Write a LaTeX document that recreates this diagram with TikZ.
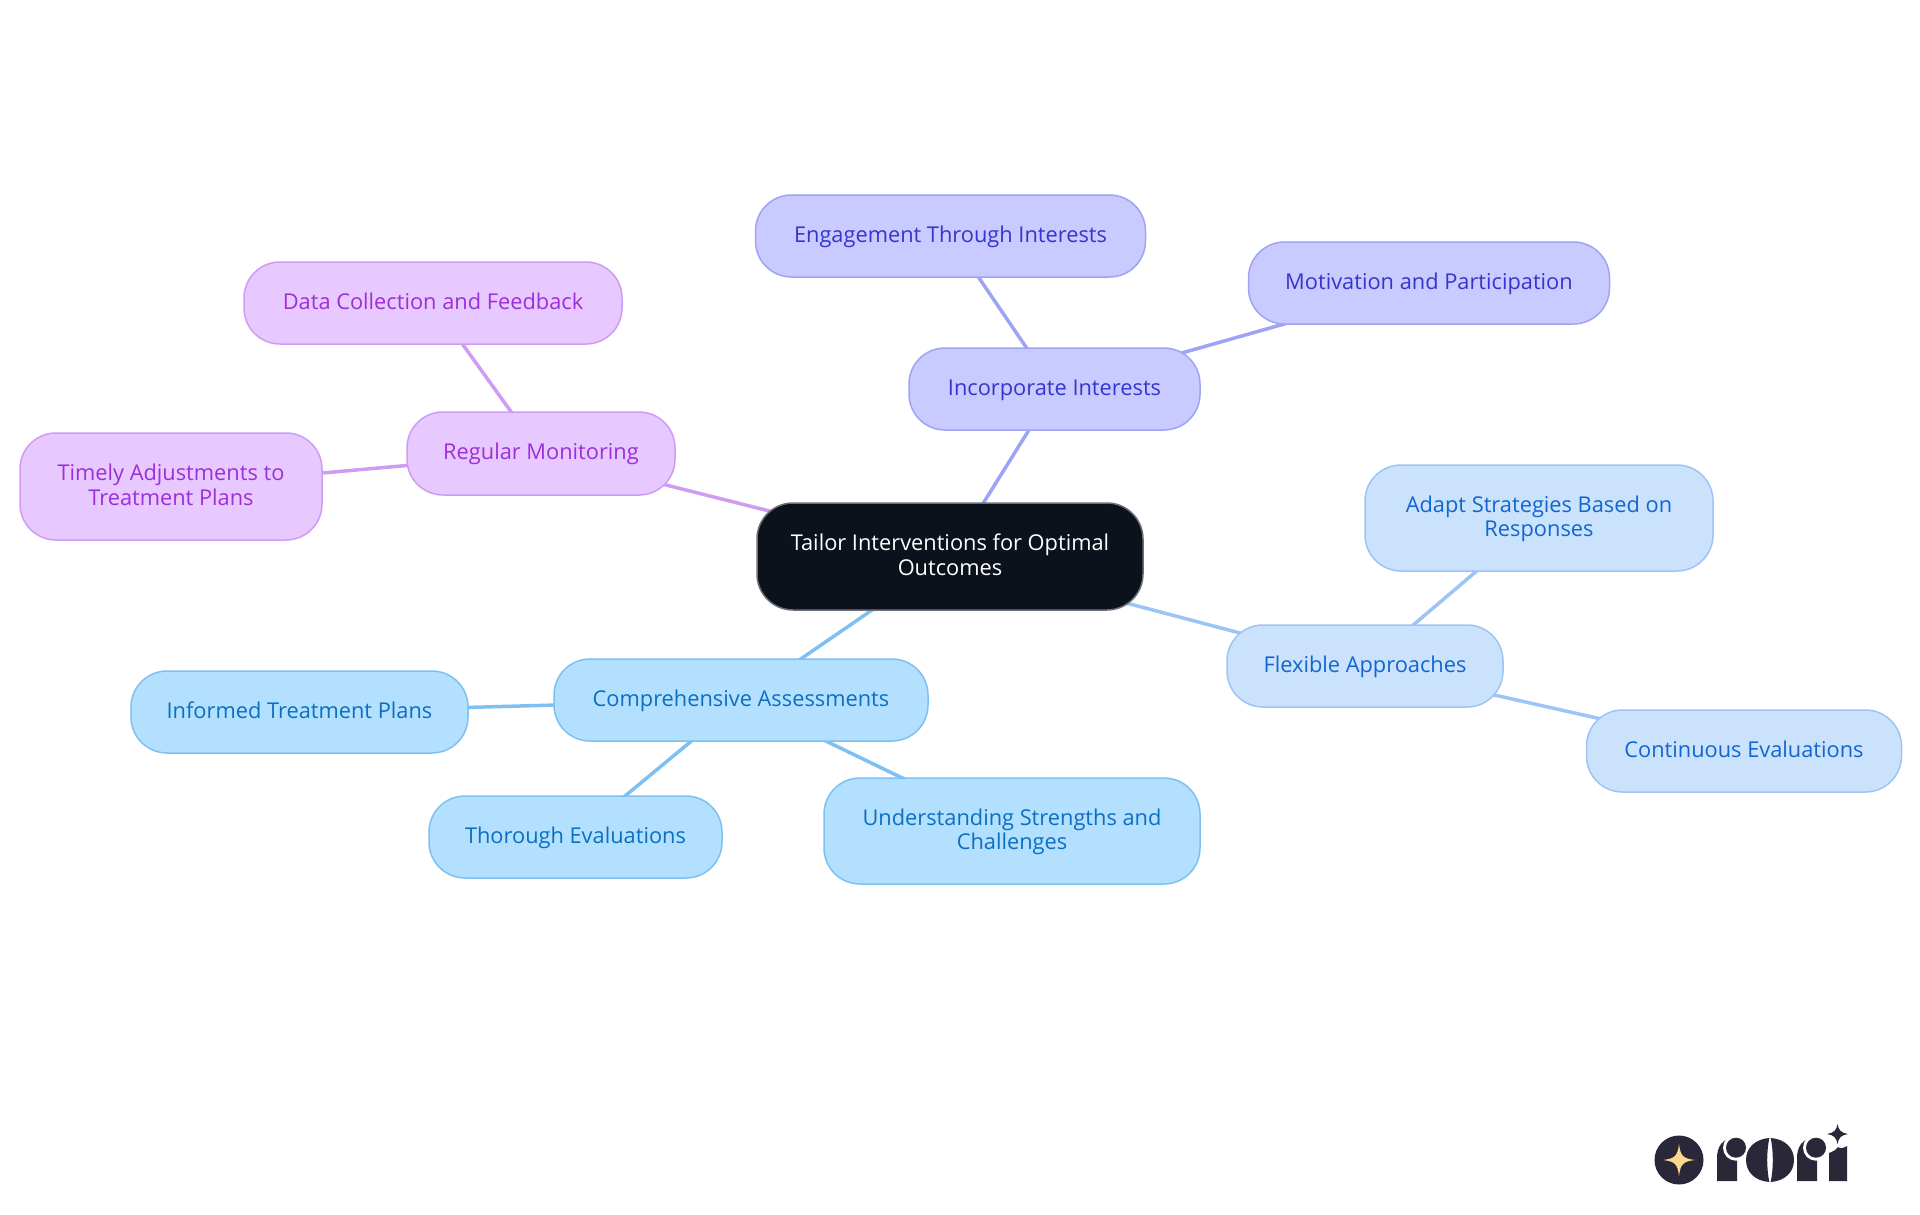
\documentclass[tikz,border=0pt]{standalone}
\usepackage{fontspec}
\setmainfont{Open Sans}
\usetikzlibrary{backgrounds}
\definecolor{dark}{HTML}{0B121B}
\definecolor{darkline}{HTML}{6B7078}
\definecolor{skyfill}{HTML}{B3E0FF}
\definecolor{skyline}{HTML}{7EC0F2}
\definecolor{skytext}{HTML}{0B6FC2}
\definecolor{paleill}{HTML}{CBE2FC}
\definecolor{paleline}{HTML}{9CC4F4}
\definecolor{paletext}{HTML}{1166D0}
\definecolor{indigofill}{HTML}{C9CAFF}
\definecolor{indigoline}{HTML}{9FA3F5}
\definecolor{indigotext}{HTML}{3535CE}
\definecolor{lilacfill}{HTML}{E8C9FF}
\definecolor{lilacline}{HTML}{CF9BF3}
\definecolor{lilactext}{HTML}{9B2FD8}
\definecolor{logoink}{HTML}{2A2838}
\definecolor{logostar}{HTML}{FBD98C}
\newcommand{\linegap}{\rule[-5pt]{0pt}{23pt}}
\begin{document}
\begin{tikzpicture}[x=1pt,y=-1pt,line cap = round, line join = round]
	\tikzstyle{topic}=[rounded corners=36pt,line width=1.5pt,inner sep=0pt,align=center,font=\fontsize{21.8}{24.3}\selectfont]
	\tikzstyle{root}=[topic,draw=darkline,fill=dark,text=white]
	\tikzstyle{sky}=[topic,draw=skyline,fill=skyfill,text=skytext]
	\tikzstyle{pale}=[topic,draw=paleline,fill=paleill,text=paletext]
	\tikzstyle{indigo}=[topic,draw=indigoline,fill=indigofill,text=indigotext]
	\tikzstyle{lilac}=[topic,draw=lilacline,fill=lilacfill,text=lilactext]
	\useasboundingbox (0,0) rectangle (1920,1215);
	\foreach \d/\x/\y/\w/\h/\s/\t in {
		tailor/950/556.5/386/107/root/{Tailor Interventions for Optimal\\Outcomes},
		incorporate/1054.5/389/291/82/indigo/{Incorporate Interests},
		engagement/950.5/236/390/82/indigo/{Engagement Through Interests},
		motivation/1429/283/361/82/indigo/{Motivation and Participation},
		monitoring/541/453.5/268/83/lilac/{Regular Monitoring},
		feedback/433/303/378/82/lilac/{Data Collection and Feedback},
		adjustments/171/486.5/302/107/lilac/{Timely Adjustments to\\Treatment Plans},
		flexible/1365/666/276/82/pale/{Flexible Approaches},
		adapt/1539/518/348/106/pale/{Adapt Strategies Based on\\Responses},
		continuous/1744/751/315/82/pale/{Continuous Evaluations},
		assessments/741/700/374/82/sky/{Comprehensive Assessments},
		informed/299.5/712/337/82/sky/{Informed Treatment Plans},
		thorough/575.5/837/293/82/sky/{Thorough Evaluations},
		understanding/1012/831/376/106/sky/{Understanding Strengths and\\Challenges}} {
		\node[\s,minimum width=\w pt,minimum height=\h pt] (\d) at (\x,\y) {\linegap\t\linegap};
	}
	\begin{scope}[on background layer]
		\foreach \a/\b/\c in {tailor/incorporate/indigoline, incorporate/engagement/indigoline, incorporate/motivation/indigoline,
			tailor/monitoring/lilacline, monitoring/feedback/lilacline, monitoring/adjustments/lilacline,
			tailor/flexible/paleline, flexible/adapt/paleline, flexible/continuous/paleline,
			tailor/assessments/skyline, assessments/informed/skyline, assessments/thorough/skyline, assessments/understanding/skyline} {
			\draw[\c,line width=3.5pt] (\a.center) -- (\b.center);
		}
	\end{scope}
	% logo
	\fill[logoink] (1679,1160) circle (24.5);
	\fill[logostar] (1679,1144) .. controls (1680.5,1156) and (1683,1158.5) .. (1695,1160) .. controls (1683,1161.5) and (1680.5,1164) .. (1679,1176) .. controls (1677.5,1164) and (1675,1161.5) .. (1663,1160) .. controls (1675,1158.5) and (1677.5,1156) .. (1679,1144) -- cycle;
	\foreach \r in {0,80} {
		\begin{scope}[xshift=\r pt]
			\fill[logoink] (1717,1181) -- (1717,1158) .. controls (1717,1147) and (1722,1139) .. (1733,1138) -- (1737,1138) -- (1737,1181) -- cycle;
			\fill[white] (1736,1147.7) circle (13);
			\fill[logoink] (1736,1147.7) circle (10);
		\end{scope}
	}
	\fill[logoink] (1769.3,1138) .. controls (1755,1139) and (1746,1148) .. (1746,1160) .. controls (1746,1172) and (1755,1181) .. (1769.3,1182) .. controls (1766.5,1168) and (1766.5,1152) .. (1769.3,1138) -- cycle;
	\fill[logoink] (1770.7,1138) .. controls (1785,1139) and (1794,1148) .. (1794,1160) .. controls (1794,1172) and (1785,1181) .. (1770.7,1182) .. controls (1773.5,1168) and (1773.5,1152) .. (1770.7,1138) -- cycle;
	\fill[logoink] (1829,1181) -- (1829,1153) .. controls (1832,1152) and (1836,1150) .. (1838,1147) .. controls (1840,1149) and (1844,1148) .. (1847,1146) -- (1847,1181) -- cycle;
	\fill[logoink] (1837.5,1124) .. controls (1838.5,1130) and (1841,1133) .. (1848,1134) .. controls (1841,1135) and (1838.5,1138) .. (1837.5,1144) .. controls (1836.5,1138) and (1834,1135) .. (1827,1134) .. controls (1834,1133) and (1836.5,1130) .. (1837.5,1124) -- cycle;
\end{tikzpicture}
\end{document}
